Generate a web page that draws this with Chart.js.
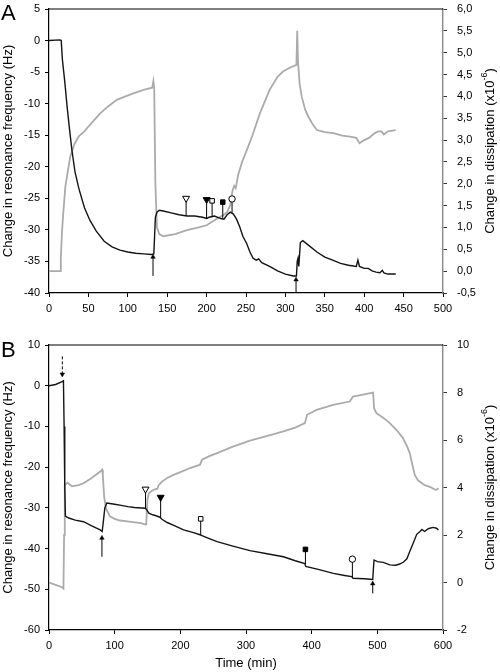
<!DOCTYPE html>
<html lang="en">
<head>
<meta charset="utf-8">
<title>QCM-D frequency and dissipation</title>
<script src="https://cdn.jsdelivr.net/npm/chart.js@4.4.1/dist/chart.umd.min.js"></script>
<style>
body { margin: 0; background: #fff; }
#wrap { position: relative; width: 500px; height: 672px; }
canvas { position: absolute; left: 0; }
</style>
</head>
<body>
<div id="wrap">
  <canvas id="chartA" width="500" height="330" style="top:0px"></canvas>
  <canvas id="chartB" width="500" height="342" style="top:330px"></canvas>
</div>

<script>
// ---- panel A data ----
const freqA_t  = [0, 14, 15.5, 17, 20, 23, 26, 29, 33, 38, 45, 52, 60, 70, 80, 90, 100, 110, 120, 130, 133, 134, 135, 137, 140, 145, 155, 165, 175, 185, 195, 200, 203, 210, 218, 222, 226, 230, 234, 238, 242, 246, 251, 255, 259, 263, 266, 270, 280, 290, 300, 310, 314, 315, 316, 317, 319, 322, 330, 340, 350, 360, 370, 380, 390, 392, 394, 400, 405, 410, 415, 420, 423, 425, 430, 440];
const freqA_hz = [0, 0.1, 0, -3, -6.5, -10.5, -14, -17.3, -20.8, -23.5, -26.5, -28.5, -30.2, -31.8, -32.7, -33.2, -33.5, -33.7, -33.8, -33.9, -33.8, -31, -28, -27.2, -26.9, -27.0, -27.3, -27.6, -27.8, -27.8, -28.0, -28.2, -28.0, -27.8, -28.2, -28.3, -27.6, -27.2, -27.5, -28.3, -29.5, -31, -32.2, -33.5, -34.5, -34.8, -34.6, -35.2, -35.8, -36.5, -37.0, -37.3, -37.3, -35, -34.5, -35.8, -32, -31.7, -32.5, -33.5, -34.3, -34.8, -35.3, -35.6, -35.8, -34.8, -35.8, -36.1, -36.1, -36.5, -36.7, -36.8, -36.4, -36.8, -37.0, -37.0];

const dissA_t = [0, 14, 15, 16.5, 18, 20.7, 24, 27, 32, 37.5, 45, 50, 57, 65, 75, 86, 97, 107, 120, 131, 132.5, 133.5, 135, 137, 140, 145, 160, 175, 190, 200, 213, 221, 226, 230, 233, 235, 237, 240, 245, 251, 258, 267.6, 280, 290, 297, 305, 314, 315, 316, 318, 320.6, 325, 329, 335, 340, 350, 361, 372, 382, 390, 394, 400, 406, 413.5, 418, 422, 425, 430, 440];
const dissA_d = [0.0, 0.0, 0.3, 0.9, 1.3, 1.93, 2.3, 2.62, 2.9, 3.08, 3.2, 3.31, 3.45, 3.61, 3.77, 3.92, 4.0, 4.07, 4.15, 4.2, 4.35, 4.2, 2.0, 1.0, 0.85, 0.8, 0.85, 0.94, 1.0, 1.05, 1.2, 1.28, 1.35, 1.51, 1.85, 1.95, 1.9, 2.2, 2.5, 2.77, 3.1, 3.61, 4.15, 4.45, 4.57, 4.65, 4.72, 5.5, 4.8, 4.3, 4.0, 3.7, 3.54, 3.35, 3.23, 3.18, 3.16, 3.1, 3.08, 3.05, 2.93, 3.0, 3.05, 3.16, 3.2, 3.2, 3.13, 3.2, 3.23];

// sample additions (stem from curve up to symbol)
const markA_t    = [174, 200, 207, 220.5, 232.3];
const markA_base = [-27.8, -28.2, -28.0, -28.2, -27.3];
const markA_top  = [-25.0, -25.2, -25.4, -25.6, -25.1];

// rinse arrows
const arrowA_t    = [132, 313.5];
const arrowA_tail = [-37.3, -40.0];
const arrowA_tip  = [-34.3, -37.9];

// ---- panel B data ----
const freqB_t  = [0, 10, 20, 22, 23, 24, 25, 30, 40, 52.6, 65, 78, 81, 83, 85, 88, 100, 110, 120, 130, 146.5, 149, 152, 158, 164, 169, 172, 180, 190, 205, 220, 230, 233, 245, 256, 280, 306, 330, 357, 375, 389.5, 391, 410, 433, 450, 461, 463, 480, 493, 494, 495, 500, 509, 519, 528, 534, 540, 545, 550, 555, 560, 565, 568, 572, 576, 580, 585, 590, 593];
const freqB_hz = [0, 0.3, 1.0, 1.2, -10, -25, -32, -32.5, -33, -33.4, -34.4, -35.4, -35.8, -33, -30, -28.8, -29.1, -29.4, -29.7, -29.9, -30.1, -30.5, -31.3, -31.7, -32, -32.3, -32.8, -33.6, -34.3, -35.4, -36.1, -36.6, -36.8, -37.6, -38.3, -39.4, -40.5, -41.2, -42, -43, -43.7, -44.4, -45.1, -46.1, -46.6, -46.9, -47.3, -47.4, -47.6, -45, -42.8, -43.2, -43.4, -44, -44.1, -43.8, -43.3, -42.5, -40.5, -38.5, -36.5, -35.8, -35.3, -35.8, -35.3, -35.0, -34.8, -35, -35.4];

const dissB_t = [0, 10, 20, 22, 23, 24, 28, 35, 45, 52.6, 65, 78, 81, 82, 84, 87, 93, 100, 108, 125, 140, 146, 148, 150, 152, 159, 165, 167, 172, 180, 189.5, 200, 215, 230, 233, 245, 256, 280, 306, 330, 357, 375, 389.7, 393, 407.5, 432.7, 458, 463, 480, 493.6, 495, 498.6, 510, 519, 530, 539, 545, 549.4, 553, 557, 562, 566, 572, 580, 587, 590, 593];
const dissB_d = [0.0, -0.1, -0.2, -0.25, 2, 4.1, 4.2, 4.05, 4.1, 4.18, 4.4, 4.67, 4.75, 4.5, 3.6, 3.1, 2.78, 2.68, 2.61, 2.55, 2.5, 2.45, 2.45, 3.5, 3.76, 3.9, 3.95, 4.1, 4.25, 4.4, 4.53, 4.65, 4.82, 4.96, 5.17, 5.33, 5.45, 5.72, 5.97, 6.15, 6.36, 6.52, 6.71, 7.06, 7.27, 7.48, 7.62, 7.83, 7.92, 8.0, 7.34, 7.13, 6.92, 6.71, 6.4, 6.08, 5.75, 5.45, 5.0, 4.53, 4.3, 4.22, 4.1, 4.03, 3.92, 3.9, 3.97];

const markB_t    = [147, 170, 231, 390.5, 462];
const markB_base = [-30.1, -32.3, -36.6, -43.8, -47.0];
const markB_top  = [-25.4, -27.4, -32.7, -40.2, -42.6];

// dashed injection arrow, then the two rinse arrows
const arrowB_t    = [20.3, 80.6, 493];
const arrowB_tail = [7.2, -42.0, -51.0];
const arrowB_tip  = [2.8, -37.4, -48.6];

// axis ticks
const ticksA = { xMax: 500, xStep: 50, yMin: -40, yMax: 5, yStep: 5, dMin: -0.5, dMax: 6, dStep: 0.5 };
const ticksB = { xMax: 600, xStep: 100, yMin: -60, yMax: 10, yStep: 10, dMin: -2, dMax: 10, dStep: 2 };

// symbol look for the five additions (same order in both panels)
const symbols = [
  { style: 'triangle', rot: 180, fill: '#fff', r: 4 },
  { style: 'triangle', rot: 180, fill: '#000', r: 4 },
  { style: 'rect', rot: 0, fill: '#fff', r: 3.2 },
  { style: 'rect', rot: 0, fill: '#000', r: 3.2 },
  { style: 'circle', rot: 0, fill: '#fff', r: 3.2 }
];

const FONT = '"Liberation Sans", Arial, sans-serif';
const BLACK = '#141414';
const GRAY = '#ababab';

function pts(xs, ys) {
  return xs.map((x, i) => ({ x: x, y: ys[i] }));
}

function buildDatasets(d) {
  var sets = [];
  for (var i = 0; i < d.mark_t.length; i++) {
    var s = symbols[i];
    sets.push({
      data: [{ x: d.mark_t[i], y: d.mark_base[i] }, { x: d.mark_t[i], y: d.mark_top[i] }],
      yAxisID: 'y', showLine: true, borderColor: '#000', borderWidth: 1,
      pointRadius: [0, s.r], pointStyle: s.style, rotation: s.rot,
      pointBackgroundColor: s.fill, pointBorderColor: '#000', pointBorderWidth: 1
    });
  }
  for (var j = 0; j < d.arrow_t.length; j++) {
    var down = d.arrow_tip[j] < d.arrow_tail[j];
    sets.push({
      data: [{ x: d.arrow_t[j], y: d.arrow_tail[j] }, { x: d.arrow_t[j], y: d.arrow_tip[j] }],
      yAxisID: 'y', showLine: true, borderColor: '#000', borderWidth: 1,
      borderDash: down ? [3, 2] : [],
      pointRadius: [0, 2.6], pointStyle: 'triangle', rotation: down ? 180 : 0,
      pointBackgroundColor: '#000', pointBorderColor: '#000', pointBorderWidth: 0.5
    });
  }
  sets.push({
    data: pts(d.freq_t, d.freq_v), yAxisID: 'y', showLine: true,
    borderColor: BLACK, borderWidth: 1.4, pointRadius: 0, tension: 0
  });
  sets.push({
    data: pts(d.diss_t, d.diss_v), yAxisID: 'y1', showLine: true,
    borderColor: GRAY, borderWidth: 1.8, pointRadius: 0, tension: 0
  });
  return sets;
}

// frame top, panel letter and axis titles
const decoPlugin = {
  id: 'deco',
  afterDraw(chart, args, opts) {
    var ctx = chart.ctx, a = chart.chartArea;
    var cy = (a.top + a.bottom) / 2;
    ctx.save();
    ctx.strokeStyle = '#000';
    ctx.lineWidth = 1.2;
    ctx.beginPath();
    ctx.moveTo(a.left, a.top);
    ctx.lineTo(a.right, a.top);
    ctx.stroke();

    ctx.fillStyle = '#000';
    ctx.font = '22px ' + FONT;
    ctx.textAlign = 'left';
    ctx.textBaseline = 'alphabetic';
    ctx.fillText(opts.letter, 1, opts.letterY);

    ctx.font = '13px ' + FONT;
    ctx.textAlign = 'center';
    ctx.textBaseline = 'middle';
    ctx.save();
    ctx.translate(8, cy);
    ctx.rotate(-Math.PI / 2);
    ctx.fillText('Change in resonance frequency (Hz)', 0, 0);
    ctx.restore();

    // right title, reads bottom to top, with superscript
    var t1 = 'Change in dissipation (x10', t2 = '-6', t3 = ')';
    ctx.font = '13px ' + FONT;
    var w1 = ctx.measureText(t1).width, w3 = ctx.measureText(t3).width;
    ctx.font = '9px ' + FONT;
    var w2 = ctx.measureText(t2).width;
    var x0 = -(w1 + w2 + w3) / 2;
    ctx.save();
    ctx.translate(490, cy);
    ctx.rotate(-Math.PI / 2);
    ctx.textAlign = 'left';
    ctx.font = '13px ' + FONT;
    ctx.fillText(t1, x0, 0);
    ctx.font = '9px ' + FONT;
    ctx.fillText(t2, x0 + w1, -5);
    ctx.font = '13px ' + FONT;
    ctx.fillText(t3, x0 + w1 + w2, 0);
    ctx.restore();

    if (opts.xTitle) {
      ctx.font = '13px ' + FONT;
      ctx.textAlign = 'center';
      ctx.textBaseline = 'middle';
      ctx.fillText(opts.xTitle, (a.left + a.right) / 2, chart.height - 9);
    }
    ctx.restore();
  }
};

function fixWidth(w) {
  return function (s) {
    s.width = w;
    s.paddingTop = 4;
    s.paddingBottom = 4;
  };
}

function makePanel(id, d, tk, top, xHeight, letter, letterY, xTitle) {
  var tickFont = { family: FONT, size: 11 };
  new Chart(document.getElementById(id), {
    type: 'scatter',
    data: { datasets: buildDatasets(d) },
    options: {
      responsive: false,
      animation: false,
      layout: { padding: { top: top, left: 0, right: 0, bottom: 0 } },
      plugins: {
        legend: { display: false },
        tooltip: { enabled: false },
        deco: { letter: letter, letterY: letterY, xTitle: xTitle }
      },
      scales: {
        x: {
          type: 'linear', min: 0, max: tk.xMax,
          ticks: { stepSize: tk.xStep, color: '#000', font: tickFont, padding: 5, maxRotation: 0 },
          grid: { drawOnChartArea: false, tickLength: 4, color: '#000' },
          border: { color: '#000', width: 1.2 },
          afterFit: function (s) { s.height = xHeight; }
        },
        y: {
          position: 'left', min: tk.yMin, max: tk.yMax,
          ticks: { stepSize: tk.yStep, color: '#000', font: tickFont, padding: 5,
                   callback: function (v) { return String(v); } },
          grid: { drawOnChartArea: false, tickLength: 4, color: '#000' },
          border: { color: '#000', width: 1.2 },
          afterFit: fixWidth(49)
        },
        y1: {
          position: 'right', min: tk.dMin, max: tk.dMax,
          ticks: { stepSize: tk.dStep, color: '#000', font: tickFont, padding: 10,
                   callback: function (v) { return tk.dStep < 1 ? v.toFixed(1).replace('.', ',') : String(v); } },
          grid: { drawOnChartArea: false, tickLength: 4, color: '#333' },
          border: { color: '#8a8a8a', width: 1.4 },
          afterFit: fixWidth(57)
        }
      }
    },
    plugins: [decoPlugin]
  });
}

makePanel('chartA', {
  freq_t: freqA_t, freq_v: freqA_hz, diss_t: dissA_t, diss_v: dissA_d,
  mark_t: markA_t, mark_base: markA_base, mark_top: markA_top,
  arrow_t: arrowA_t, arrow_tail: arrowA_tail, arrow_tip: arrowA_tip
}, ticksA, 9, 37, 'A', 20, null);

makePanel('chartB', {
  freq_t: freqB_t, freq_v: freqB_hz, diss_t: dissB_t, diss_v: dissB_d,
  mark_t: markB_t, mark_base: markB_base, mark_top: markB_top,
  arrow_t: arrowB_t, arrow_tail: arrowB_tail, arrow_tip: arrowB_tip
}, ticksB, 15, 42, 'B', 27, 'Time (min)');
</script>
</body>
</html>
